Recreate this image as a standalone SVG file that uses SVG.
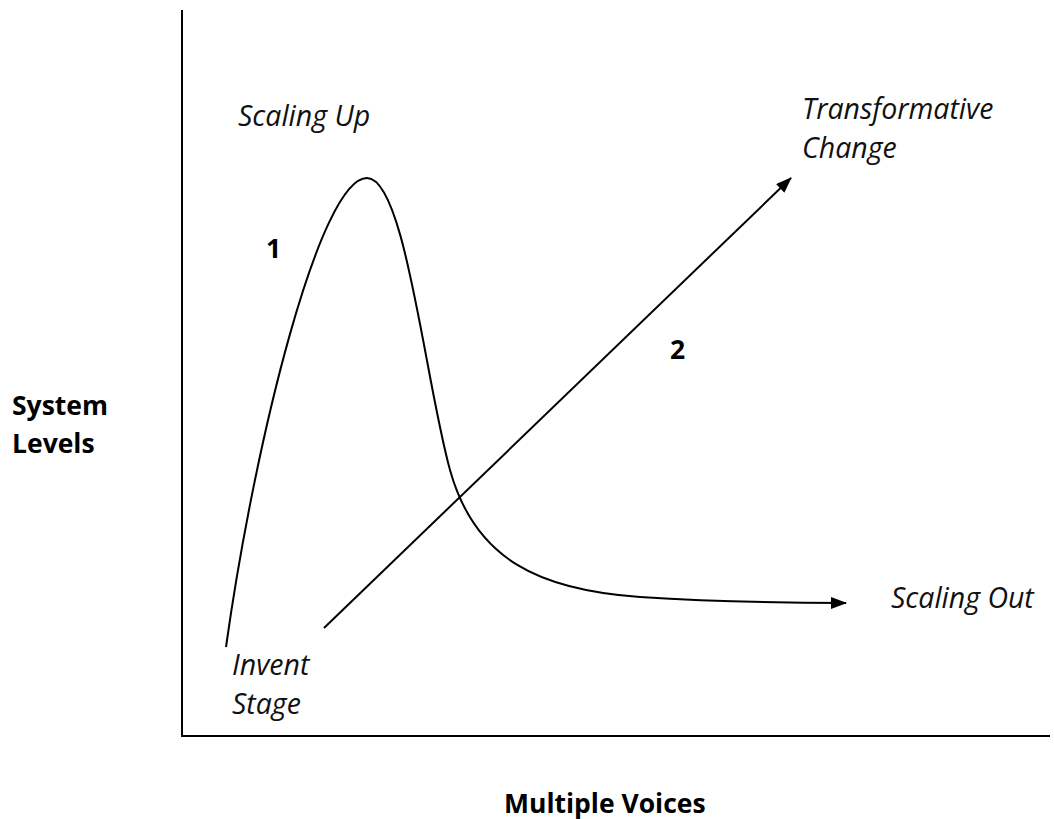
<svg xmlns="http://www.w3.org/2000/svg" width="1054" height="819" viewBox="0 0 1054 819">
<style>
.it{font-family:"Open Sans","Liberation Sans",sans-serif;font-style:italic;font-size:28.5px;fill:#111}
.bd{font-family:"Open Sans","Liberation Sans",sans-serif;font-weight:bold;font-size:26.5px;fill:#000}
.ln{fill:none;stroke:#000;stroke-width:2}
</style>
<defs>
<marker id="ah" markerUnits="userSpaceOnUse" markerWidth="16" markerHeight="12" refX="15" refY="6" orient="auto">
<path d="M0,0 L16,6 L0,12 Z" fill="#000"/>
</marker>
</defs>
<rect width="1054" height="819" fill="#fff"/>
<g id="axes">
<path class="ln" d="M182,10 V736 H1050"/>
</g>
<g id="connectors">
<path id="curve1" class="ln" marker-end="url(#ah)" d="M226,647 C255,440 320,178 367,178 C405,178 425,380 450,470 C475,560 540,590 640,597 C720,602 790,603 846,603"/>
<path id="line2" class="ln" marker-end="url(#ah)" d="M324,628 L791,178"/>
</g>
<g id="scaling-up"><text class="it" x="238" y="126">Scaling Up</text></g>
<g id="label-1"><text class="bd" x="266" y="258">1</text></g>
<g id="label-2"><text class="bd" x="670" y="359">2</text></g>
<g id="transformative"><text class="it" x="802" y="119">Transformative</text><text class="it" x="802" y="158">Change</text></g>
<g id="scaling-out"><text class="it" x="891" y="608">Scaling Out</text></g>
<g id="invent"><text class="it" x="232" y="675">Invent</text><text class="it" x="232" y="714">Stage</text></g>
<g id="system-levels"><text class="bd" x="12" y="415">System</text><text class="bd" x="12" y="453">Levels</text></g>
<g id="multiple-voices"><text class="bd" x="504" y="813">Multiple Voices</text></g>
</svg>
